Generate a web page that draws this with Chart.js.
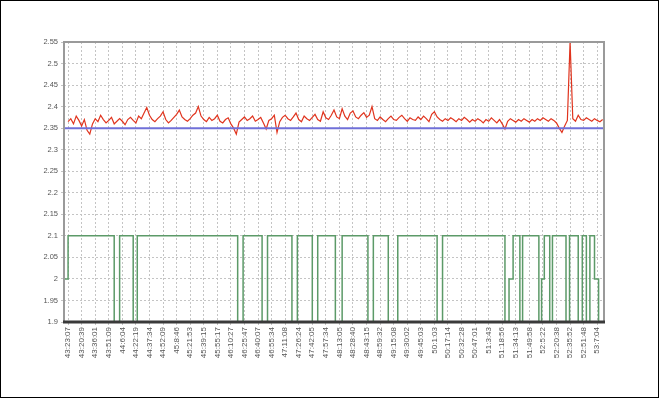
<!DOCTYPE html>
<html>
<head>
<meta charset="utf-8">
<script src="https://cdn.jsdelivr.net/npm/chart.js@4/dist/chart.umd.min.js"></script>
<style>
  html, body { margin: 0; padding: 0; background: #fff; }
  .frame { position: relative; width: 657px; height: 396px; border: 1px solid #000; }
  canvas { display: block; }
</style>
</head>
<body>
<div class="frame"><canvas id="chart" width="657" height="396"></canvas></div>
<script>
// time labels, one every 5 samples
const timeLabels = [
  "43:23:07", "43:20:39", "43:36:01", "43:51:09", "44:6:04", "44:22:19", "44:37:34", "44:52:09",
  "45:8:46", "45:21:53", "45:39:15", "45:55:17", "46:10:27", "46:25:47", "46:40:07", "46:55:34",
  "47:11:08", "47:26:24", "47:42:05", "47:57:34", "48:13:05", "48:28:40", "48:43:15", "48:59:32",
  "49:15:08", "49:30:02", "49:45:03", "50:1:03", "50:17:14", "50:32:28", "50:47:01", "51:3:43",
  "51:18:56", "51:34:13", "51:49:58", "52:5:22", "52:20:38", "52:35:52", "52:51:48", "53:7:04",
];

const yTickValues = [1.9, 1.95, 2, 2.05, 2.1, 2.15, 2.2, 2.25, 2.3, 2.35, 2.4, 2.45, 2.5, 2.55];

// measured value, one per sample
const measured = [
  2.365, 2.372, 2.36, 2.378, 2.368, 2.355, 2.37, 2.345, 2.336, 2.36,
  2.372, 2.365, 2.38, 2.37, 2.362, 2.368, 2.375, 2.36, 2.366, 2.372,
  2.366, 2.358, 2.37, 2.375, 2.368, 2.362, 2.378, 2.372, 2.385, 2.398,
  2.38, 2.37, 2.365, 2.372, 2.378, 2.388, 2.37, 2.362, 2.368, 2.375,
  2.382, 2.392, 2.376, 2.37, 2.366, 2.372, 2.38, 2.385, 2.4, 2.378,
  2.37, 2.365, 2.375, 2.368, 2.372, 2.38, 2.366, 2.362, 2.37, 2.374,
  2.36, 2.35, 2.336, 2.364, 2.37, 2.376, 2.368, 2.372, 2.378, 2.366,
  2.37, 2.375, 2.362, 2.348, 2.368, 2.372, 2.38, 2.34, 2.365, 2.375,
  2.38, 2.372, 2.368, 2.376, 2.385, 2.37, 2.365, 2.378, 2.372, 2.368,
  2.375, 2.382, 2.37, 2.366, 2.388, 2.374, 2.37, 2.38, 2.392, 2.376,
  2.372, 2.395, 2.378, 2.37, 2.385, 2.39, 2.376, 2.372, 2.38, 2.386,
  2.375, 2.38, 2.4, 2.372, 2.368, 2.376, 2.37, 2.365, 2.372, 2.378,
  2.37, 2.368, 2.375, 2.38, 2.372, 2.366, 2.374, 2.37, 2.368, 2.376,
  2.37, 2.378, 2.372, 2.365, 2.382, 2.388, 2.376, 2.37, 2.366, 2.372,
  2.368, 2.374, 2.37, 2.365, 2.372, 2.368, 2.375, 2.37, 2.364, 2.37,
  2.366, 2.372, 2.368, 2.362, 2.37, 2.366, 2.374, 2.368, 2.362, 2.37,
  2.36, 2.348, 2.366, 2.372, 2.368, 2.364, 2.37, 2.366, 2.372, 2.368,
  2.364, 2.37, 2.366, 2.372, 2.368, 2.374, 2.37, 2.366, 2.372, 2.368,
  2.362, 2.35, 2.34, 2.355, 2.368, 2.55, 2.372, 2.366, 2.38, 2.37,
  2.368, 2.374, 2.37, 2.366, 2.372, 2.368, 2.365, 2.37,
];

const setpoint = 2.35;

// state line: sample index where it changes, and the new level
const stateAt = [
  -1.5, 0, 17, 19, 24, 25.5, 62.5, 64.5, 71.5, 73.5, 82.5, 84.5, 90, 92,
  98.5, 101, 110.5, 112.5, 118, 121.5, 136, 138, 161, 162.5, 164, 166.5, 167.5,
  173.5, 174.5, 175.5, 177.5, 178.5, 183.5, 184.8, 188, 189.5, 191, 192.3,
  194, 195.5, 197.5,
];
const stateLevel = [
  2.0, 2.1, 1.9, 2.1, 1.9, 2.1, 1.9, 2.1, 1.9, 2.1, 1.9, 2.1, 1.9, 2.1,
  1.9, 2.1, 1.9, 2.1, 1.9, 2.1, 1.9, 2.1, 1.9, 2.0, 2.1, 1.9, 2.1,
  1.9, 2.0, 2.1, 1.9, 2.1, 1.9, 2.1, 1.9, 2.1, 1.9, 2.1,
  2.0, 1.9, 2.1,
];

const xMin = -1.5;
const xMax = 197.5;

const plotFrame = {
  id: "plotFrame",
  afterDraw(chart) {
    const { ctx, chartArea: a } = chart;
    ctx.save();
    ctx.strokeStyle = "#9a9a9a";
    ctx.lineWidth = 2;
    ctx.beginPath();
    ctx.moveTo(a.left, a.bottom);
    ctx.lineTo(a.left, a.top);
    ctx.lineTo(a.right, a.top);
    ctx.lineTo(a.right, a.bottom);
    ctx.stroke();
    ctx.strokeStyle = "#3a3a3a";
    ctx.lineWidth = 3;
    ctx.beginPath();
    ctx.moveTo(a.left - 1, a.bottom);
    ctx.lineTo(a.right + 1, a.bottom);
    ctx.stroke();
    ctx.restore();
  },
};

const tickFont = { family: "Liberation Sans", size: 7.5 };

new Chart(document.getElementById("chart"), {
  type: "line",
  data: {
    datasets: [
      {
        data: stateAt.map((x, i) => ({ x, y: stateLevel[i] })),
        borderColor: "#5c9a68",
        borderWidth: 1.5,
        stepped: "before",
        pointRadius: 0,
      },
      {
        data: [{ x: xMin, y: setpoint }, { x: xMax, y: setpoint }],
        borderColor: "#7070d8",
        borderWidth: 2,
        pointRadius: 0,
      },
      {
        data: measured.map((y, i) => ({ x: i, y })),
        borderColor: "#e0341e",
        borderWidth: 1.2,
        pointRadius: 0,
        tension: 0,
      },
    ],
  },
  options: {
    responsive: false,
    animation: false,
    layout: { padding: { left: 20, right: 54, top: 41, bottom: 0 } },
    plugins: { legend: { display: false }, tooltip: { enabled: false } },
    scales: {
      x: {
        type: "linear",
        min: xMin,
        max: xMax,
        afterBuildTicks: (scale) => {
          scale.ticks = timeLabels.map((_, i) => ({ value: i * 5 }));
        },
        afterFit: (scale) => {
          scale.height = 75;
        },
        ticks: {
          autoSkip: false,
          minRotation: 90,
          maxRotation: 90,
          color: "#555",
          font: { family: "Liberation Sans", size: 8 },
          padding: 2,
          callback: (value, index) => timeLabels[index],
        },
        grid: { color: "#c4c4c4", tickLength: 3, lineWidth: 1 },
        border: { display: false, dash: [2, 2] },
      },
      y: {
        min: 1.9,
        max: 2.55,
        afterBuildTicks: (scale) => {
          scale.ticks = yTickValues.map((value) => ({ value }));
        },
        afterFit: (scale) => {
          scale.width = 43;
        },
        ticks: {
          color: "#555",
          font: tickFont,
          padding: 3,
          callback: (value) => String(value),
        },
        grid: { color: "#c4c4c4", tickLength: 3, lineWidth: 1 },
        border: { display: false, dash: [2, 2] },
      },
    },
  },
  plugins: [plotFrame],
});
</script>
</body>
</html>
